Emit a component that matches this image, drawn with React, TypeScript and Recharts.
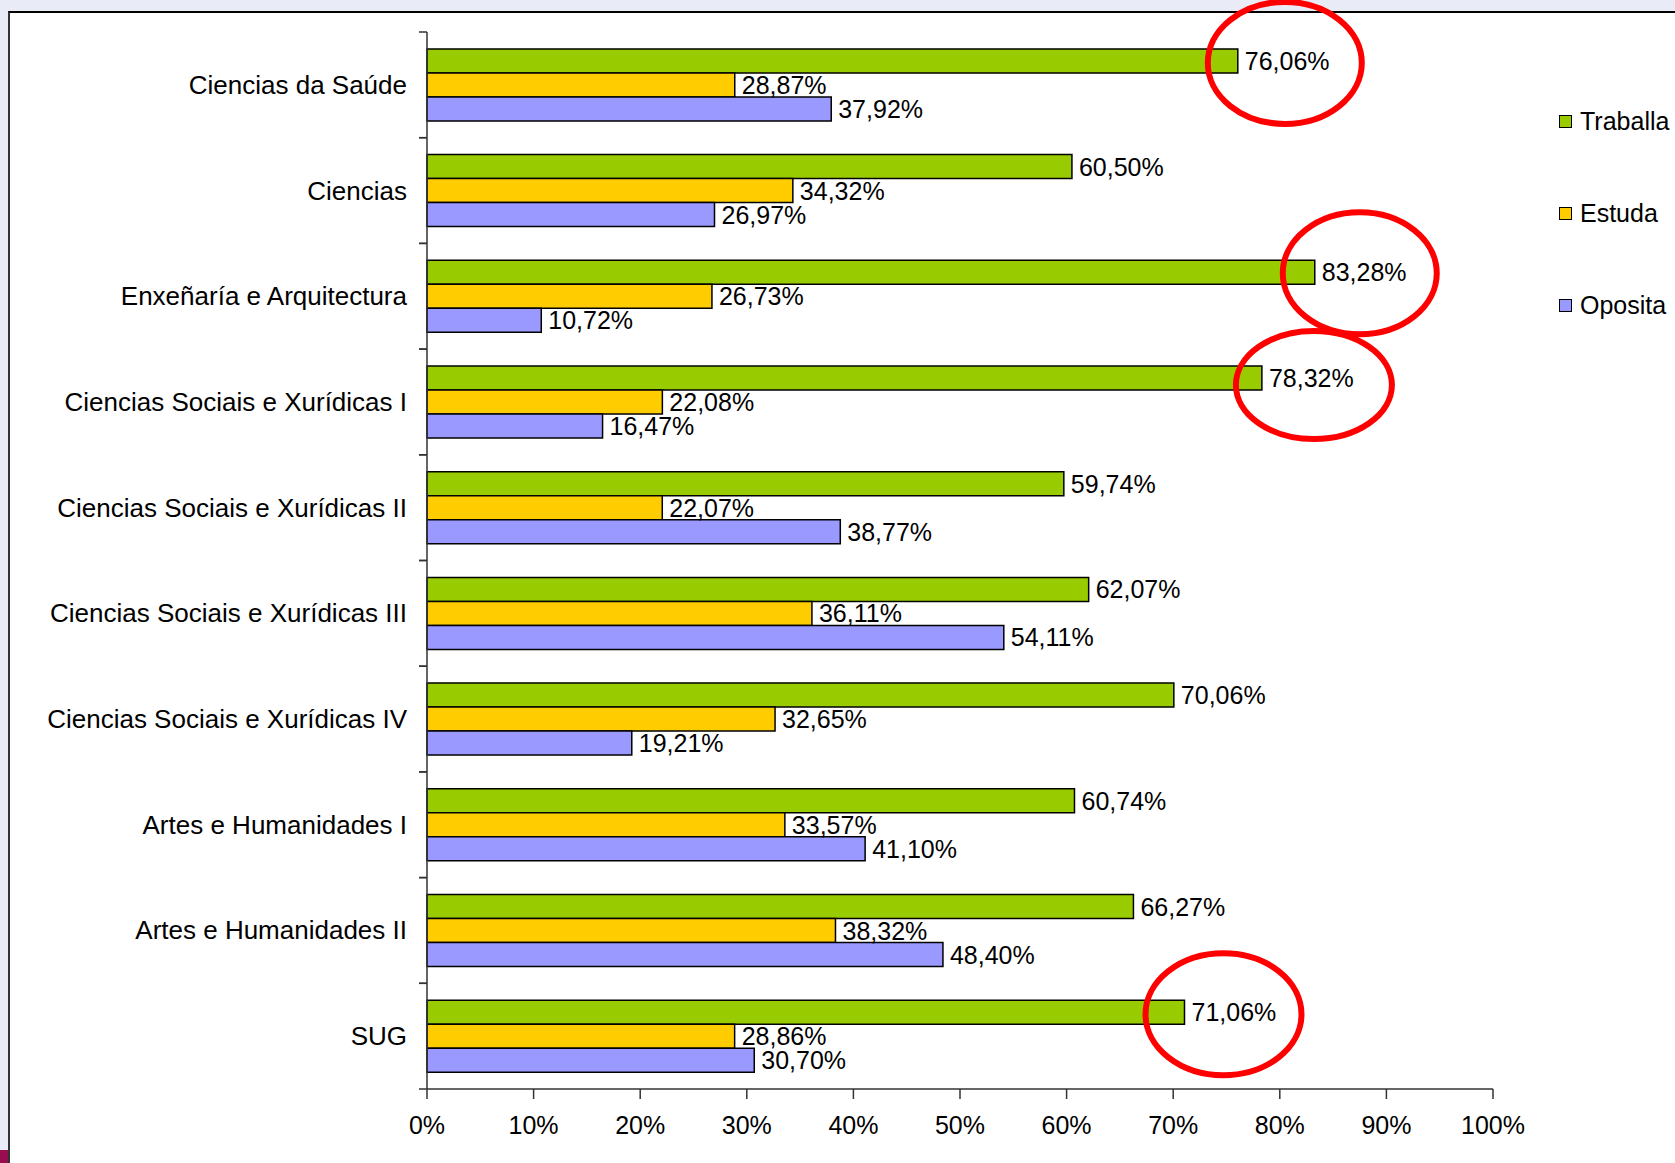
import React from 'react';
import { BarChart, Bar, XAxis, YAxis, Legend, LabelList } from 'recharts';

const CATEGORIES = [
  'Ciencias da Saúde',
  'Ciencias',
  'Enxeñaría e Arquitectura',
  'Ciencias Sociais e Xurídicas I',
  'Ciencias Sociais e Xurídicas II',
  'Ciencias Sociais e Xurídicas III',
  'Ciencias Sociais e Xurídicas IV',
  'Artes e Humanidades I',
  'Artes e Humanidades II',
  'SUG',
];

const TRABALLA = [76.06, 60.5, 83.28, 78.32, 59.74, 62.07, 70.06, 60.74, 66.27, 71.06];
const ESTUDA = [28.87, 34.32, 26.73, 22.08, 22.07, 36.11, 32.65, 33.57, 38.32, 28.86];
const OPOSITA = [37.92, 26.97, 10.72, 16.47, 38.77, 54.11, 19.21, 41.1, 48.4, 30.7];

const SERIES_NAMES = ['Traballa', 'Estuda', 'Oposita'];
const SERIES_KEYS = ['traballa', 'estuda', 'oposita'];
const SERIES_COLORS = ['#99cc00', '#ffcc00', '#9999ff'];

const X_TICKS = [0, 10, 20, 30, 40, 50, 60, 70, 80, 90, 100];

// categories whose "Traballa" value is circled in red
const HIGHLIGHTED = [
  'Ciencias da Saúde',
  'Enxeñaría e Arquitectura',
  'Ciencias Sociais e Xurídicas I',
  'SUG',
];
// hand-drawn rings: offset from bar end / bar centre and radii
const RINGS = [
  { dx: 47, dy: 2, rx: 77, ry: 61 },
  { dx: 45, dy: 1, rx: 77, ry: 61 },
  { dx: 52, dy: 7, rx: 78, ry: 54 },
  { dx: 39, dy: 2, rx: 78, ry: 61 },
];

const data = CATEGORIES.map((name, i) => ({
  name,
  traballa: TRABALLA[i],
  estuda: ESTUDA[i],
  oposita: OPOSITA[i],
}));

const FONT = '"Liberation Sans", Arial, sans-serif';
const FONT_SIZE = 25;
const W = 1675;
const H = 1163;
const PLOT_TOP = 32;
const PLOT_BOTTOM = 1089;
const Y_AXIS_W = 427;
const X_AXIS_H = H - PLOT_BOTTOM;
const BAND = (PLOT_BOTTOM - PLOT_TOP) / CATEGORIES.length;

const fmt = (v: number) => `${v.toFixed(2).replace('.', ',')}%`;

const CategoryTick = (props: any) => {
  const { y, payload } = props;
  const axisX = Y_AXIS_W;
  return (
    <g>
      <line x1={axisX - 8} x2={axisX} y1={y - BAND / 2} y2={y - BAND / 2} stroke="#333" strokeWidth={1.5} />
      <line x1={axisX - 8} x2={axisX} y1={y + BAND / 2} y2={y + BAND / 2} stroke="#333" strokeWidth={1.5} />
      <text
        x={axisX - 20}
        y={y}
        textAnchor="end"
        dominantBaseline="central"
        fontFamily={FONT}
        fontSize={26}
        fill="#000"
      >
        {payload.value}
      </text>
    </g>
  );
};

const makeLabel = (seriesKey: string) => (props: any) => {
  const { x, y, width, height, value } = props;
  const idx = props.index ?? -1;
  const endX = Number(x) + Number(width);
  const cy = Number(y) + Number(height) / 2;
  const h = seriesKey === 'traballa' && idx >= 0 ? HIGHLIGHTED.indexOf(CATEGORIES[idx]) : -1;
  const ring = h >= 0 ? RINGS[h] : null;
  return (
    <g>
      <text
        x={endX + 7}
        y={cy}
        dominantBaseline="central"
        fontFamily={FONT}
        fontSize={FONT_SIZE}
        fill="#000"
      >
        {fmt(Number(value))}
      </text>
      {ring && (
        <ellipse
          cx={endX + ring.dx}
          cy={cy + ring.dy}
          rx={ring.rx}
          ry={ring.ry}
          fill="none"
          stroke="#ff0000"
          strokeWidth={6}
        />
      )}
    </g>
  );
};

const renderLegend = () => (
  <div style={{ fontFamily: FONT, fontSize: FONT_SIZE, color: '#000' }}>
    {SERIES_NAMES.map((name, i) => (
      <div key={name} style={{ height: 92, display: 'flex', alignItems: 'center', whiteSpace: 'nowrap' }}>
        <span
          style={{
            display: 'inline-block',
            width: 11,
            height: 11,
            border: '1.5px solid #000',
            background: SERIES_COLORS[i],
            marginRight: 8,
          }}
        />
        {name}
      </div>
    ))}
  </div>
);

export default function App() {
  return (
    <div style={{ position: 'absolute', left: 0, top: 0, width: W, height: H, overflow: 'hidden', background: '#e9ebf7' }}>
      <div
        style={{
          position: 'absolute',
          left: 8,
          top: 11,
          right: 0,
          bottom: 0,
          background: '#fff',
          borderLeft: '2px solid #333',
          borderTop: '2px solid #000',
        }}
      />
      <div style={{ position: 'absolute', left: 0, top: 1150, width: 8, height: 13, background: '#980d4d' }} />
      <div style={{ position: 'absolute', left: 0, top: 0 }}>
        <BarChart
          width={W}
          height={H}
          data={data}
          layout="vertical"
          margin={{ top: PLOT_TOP, right: 182, bottom: 0, left: 0 }}
          barCategoryGap="16%"
          barGap={0}
        >
          <XAxis
            type="number"
            domain={[0, 100]}
            ticks={X_TICKS}
            interval={0}
            height={X_AXIS_H}
            tickFormatter={(v: number) => `${v}%`}
            axisLine={{ stroke: '#333', strokeWidth: 1.5 }}
            tickLine={{ stroke: '#333', strokeWidth: 1.5 }}
            tickSize={10}
            tickMargin={17}
            tick={{ fill: '#000', fontSize: FONT_SIZE, fontFamily: FONT }}
          />
          <YAxis
            type="category"
            dataKey="name"
            width={Y_AXIS_W}
            interval={0}
            axisLine={{ stroke: '#333', strokeWidth: 1.5 }}
            tickLine={false}
            tickSize={0}
            tick={<CategoryTick />}
          />
          <Legend
            layout="vertical"
            align="center"
            verticalAlign="middle"
            content={renderLegend}
            wrapperStyle={{ left: 1559, top: 75, width: 130 }}
          />
          {SERIES_KEYS.map((key, i) => (
            <Bar
              key={key}
              dataKey={key}
              name={SERIES_NAMES[i]}
              fill={SERIES_COLORS[i]}
              stroke="#000"
              strokeWidth={1.5}
              isAnimationActive={false}
            >
              <LabelList dataKey={key} content={makeLabel(key)} />
            </Bar>
          ))}
        </BarChart>
      </div>
    </div>
  );
}
